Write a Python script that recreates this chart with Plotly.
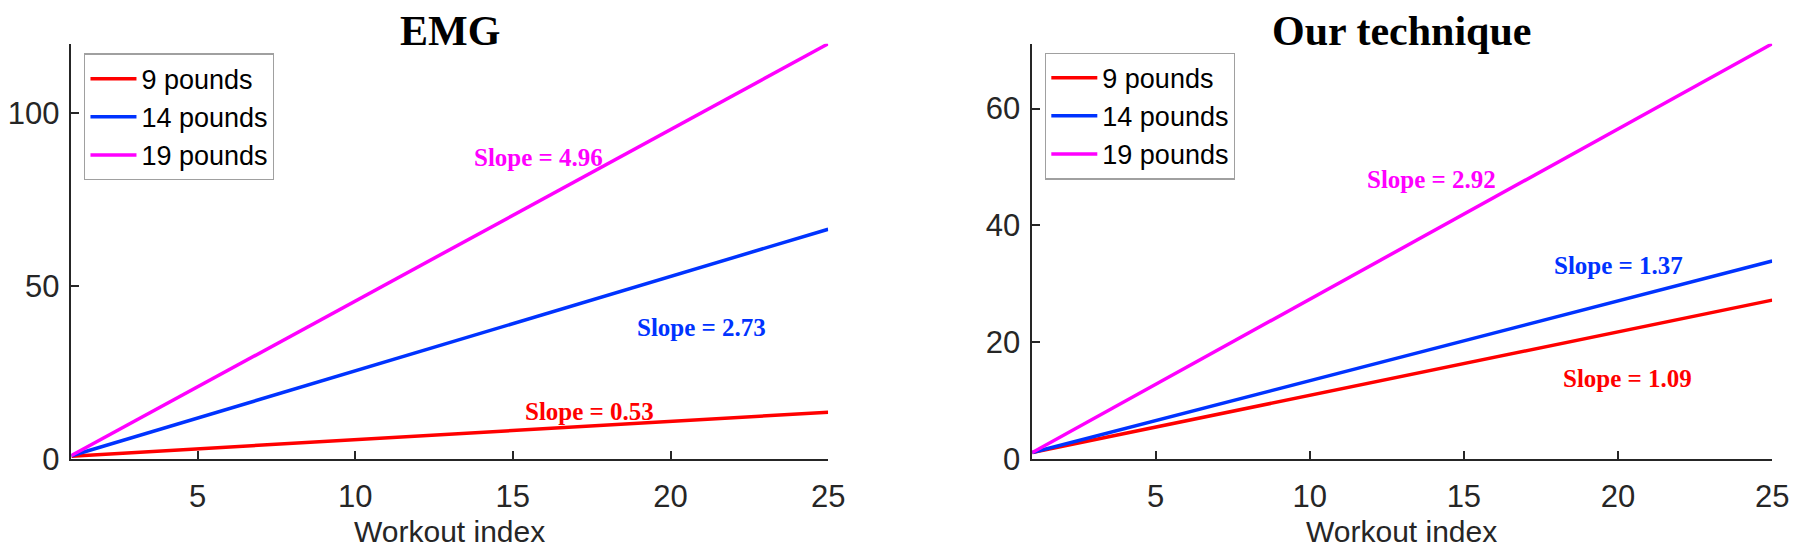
import plotly.graph_objects as go

# ---- data ----
series_names = ["9 pounds", "14 pounds", "19 pounds"]
x_ends = [1, 25]
emg_start = [0.8, 0.9, 1.0]
emg_end = [13.5, 66.4, 120.0]
ours_start = [1.1, 1.1, 1.1]
ours_end = [27.2, 33.9, 71.1]
emg_slopes = ["0.53", "2.73", "4.96"]
ours_slopes = ["1.09", "1.37", "2.92"]
x_ticks = [5, 10, 15, 20, 25]
emg_yticks = [0, 50, 100]
ours_yticks = [0, 20, 40, 60]

# ---- style ----
colors = ["#FF0000", "#0033FF", "#FF00FF"]
emg_label_pos = [(17.43, 13.7), (20.98, 38.0), (15.8, 87.0)]
ours_label_pos = [(20.31, 13.8), (20.02, 33.1), (13.95, 47.9)]
AX = "#262626"
SANS = "Liberation Sans, Arial, sans-serif"
SERIF = "Liberation Serif, Times New Roman, serif"

fig = go.Figure()
for i, name in enumerate(series_names):
    fig.add_trace(go.Scatter(x=x_ends, y=[emg_start[i], emg_end[i]], mode="lines",
                             line=dict(color=colors[i], width=3.5), name=name,
                             xaxis="x", yaxis="y", legend="legend"))
for i, name in enumerate(series_names):
    fig.add_trace(go.Scatter(x=x_ends, y=[ours_start[i], ours_end[i]], mode="lines",
                             line=dict(color=colors[i], width=3.5), name=name,
                             xaxis="x2", yaxis="y2", legend="legend2"))

W, H = 1800, 557
def px(x):
    return x / W
def py(y):
    return (H - y) / H

axis_common = dict(showline=True, linecolor=AX, linewidth=1.5, ticks="inside",
                   ticklen=8, tickwidth=1.5, tickcolor=AX, showgrid=False,
                   zeroline=False, tickfont=dict(family=SANS, size=31, color=AX),
                   mirror=False)

legend_common = dict(xanchor="left", yanchor="top", bordercolor="#A0A0A0",
                     borderwidth=1.2, bgcolor="white",
                     font=dict(family=SANS, size=27, color="black"),
                     tracegroupgap=0, itemwidth=46)

fig.update_layout(
    width=W, height=H, margin=dict(l=0, r=0, t=0, b=0),
    paper_bgcolor="white", plot_bgcolor="white",
    xaxis=dict(domain=[px(64), px(828)], range=[1, 25], tickvals=x_ticks,
               anchor="y", ticklabelstandoff=9, **axis_common),
    yaxis=dict(domain=[py(466), py(37)], range=[0, 120], tickvals=emg_yticks,
               anchor="x", ticklabelstandoff=4, **axis_common),
    xaxis2=dict(domain=[px(1034), px(1781)], range=[1, 25], tickvals=x_ticks,
                anchor="y2", ticklabelstandoff=9, **axis_common),
    yaxis2=dict(domain=[py(466), py(37)], range=[0, 71.1], tickvals=ours_yticks,
                anchor="x2", ticklabelstandoff=4, **axis_common),
    legend=dict(x=px(77), y=py(47), **legend_common),
    legend2=dict(x=px(1047), y=py(46), **legend_common),
    showlegend=True,
)

annotations = []
# subplot titles
for txt, cx in (("EMG", 446), ("Our technique", 1407)):
    annotations.append(dict(text="<b>%s</b>" % txt, x=px(cx), y=py(24), xref="paper", yref="paper",
                            showarrow=False, xanchor="center", yanchor="middle",
                            font=dict(family=SERIF, size=42, color="black")))
# x-axis titles
for cx in (446, 1407):
    annotations.append(dict(text="Workout index", x=px(cx), y=py(541), xref="paper", yref="paper",
                            showarrow=False, xanchor="center", yanchor="middle",
                            font=dict(family=SANS, size=30, color=AX)))
# slope labels
for i in range(3):
    annotations.append(dict(text="<b>Slope = %s</b>" % emg_slopes[i], x=emg_label_pos[i][0],
                            y=emg_label_pos[i][1], xref="x", yref="y", showarrow=False,
                            xanchor="center", yanchor="middle",
                            font=dict(family=SERIF, size=25, color=colors[i])))
    annotations.append(dict(text="<b>Slope = %s</b>" % ours_slopes[i], x=ours_label_pos[i][0],
                            y=ours_label_pos[i][1], xref="x2", yref="y2", showarrow=False,
                            xanchor="center", yanchor="middle",
                            font=dict(family=SERIF, size=25, color=colors[i])))
fig.update_layout(annotations=annotations)

fig.write_html("out.html")
